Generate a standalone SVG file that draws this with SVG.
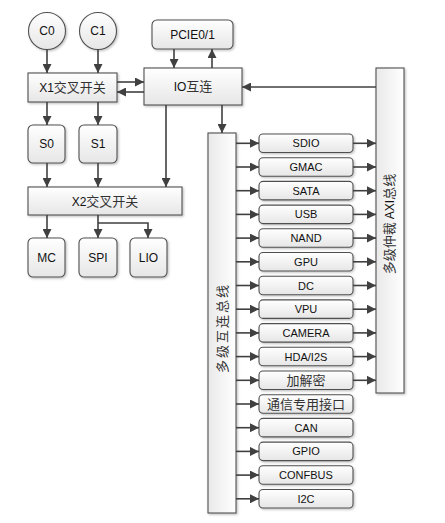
<svg xmlns="http://www.w3.org/2000/svg" width="445" height="523" viewBox="0 0 445 523">
<defs>
<linearGradient id="gv" x1="0" y1="0" x2="0" y2="1"><stop offset="0" stop-color="#ffffff"/><stop offset="1" stop-color="#e6e6e6"/></linearGradient>
<linearGradient id="gh" x1="0" y1="0" x2="1" y2="0"><stop offset="0" stop-color="#e9e9e9"/><stop offset="1" stop-color="#ffffff"/></linearGradient>
<filter id="sh" x="-10%" y="-10%" width="130%" height="130%"><feDropShadow dx="1.2" dy="1.2" stdDeviation="0.8" flood-color="#000" flood-opacity="0.25"/></filter>
<marker id="ar" viewBox="0 0 10 10" refX="10" refY="5" markerWidth="9" markerHeight="9" markerUnits="userSpaceOnUse" orient="auto"><path d="M0,0 L10,5 L0,10 z" fill="#404040"/></marker>
</defs>
<style>
.b{fill:url(#gv);stroke:#505050;stroke-width:1.1;filter:url(#sh)}
.bus{fill:url(#gh);stroke:#505050;stroke-width:1.1;filter:url(#sh)}
.t{font-family:"Liberation Sans","Noto Sans CJK SC",sans-serif;font-size:12px;fill:#111;text-anchor:middle}
.p{font-size:11px}
.z{font-family:"Noto Sans CJK SC",sans-serif;font-size:13px;fill:#333}
.c line,.c path{stroke:#404040;stroke-width:1.6;fill:none;marker-end:url(#ar)}
</style>
<rect width="445" height="523" fill="#fff"/>
<g id="C0"><circle class="b" cx="47" cy="31" r="18.5"/><text class="t" x="47" y="35.3">C0</text></g>
<g id="C1"><circle class="b" cx="98" cy="31" r="18.5"/><text class="t" x="98" y="35.3">C1</text></g>
<g id="PCIE"><rect class="b" x="152" y="20" width="81" height="29" rx="5"/><text class="t" x="192.5" y="38.8">PCIE0/1</text></g>
<g id="X1"><rect class="b" x="28" y="73" width="89" height="29"/><text class="t" x="72.5" y="92">X1<tspan class="z">交叉开关</tspan></text></g>
<g id="IO"><rect class="b" x="144" y="68" width="98" height="37"/><text class="t" x="193" y="91">IO<tspan class="z">互连</tspan></text></g>
<g id="S0"><rect class="b" x="28" y="125" width="37" height="38" rx="5"/><text class="t" x="46.5" y="148.3">S0</text></g>
<g id="S1"><rect class="b" x="79" y="125" width="38" height="38" rx="5"/><text class="t" x="98" y="148.3">S1</text></g>
<g id="X2"><rect class="b" x="28" y="187" width="154" height="28"/><text class="t" x="105" y="205.5">X2<tspan class="z">交叉开关</tspan></text></g>
<g id="MC"><rect class="b" x="28" y="238" width="37" height="39" rx="5"/><text class="t" x="46.5" y="261.8">MC</text></g>
<g id="SPI"><rect class="b" x="79" y="238" width="38" height="39" rx="5"/><text class="t" x="98" y="261.8">SPI</text></g>
<g id="LIO"><rect class="b" x="130" y="238" width="37" height="39" rx="5"/><text class="t" x="148.5" y="261.8">LIO</text></g>
<g id="BUS1"><rect class="bus" x="208" y="133" width="28" height="380"/><text class="t z" letter-spacing="2" transform="translate(222,328) rotate(-90)" y="4.6">多级互连总线</text></g>
<g id="AXI"><rect class="bus" x="376" y="68" width="28" height="325"/><text class="t" transform="translate(390,224) rotate(-90)" y="4.4"><tspan class="z">多级仲裁 </tspan>AXI<tspan class="z">总线</tspan></text></g>
<g id="SDIO"><rect class="b" x="259" y="134" width="94" height="18.5" rx="4"/><text class="t p" x="306" y="147.3">SDIO</text></g>
<g id="GMAC"><rect class="b" x="259" y="157.7" width="94" height="18.5" rx="4"/><text class="t p" x="306" y="171">GMAC</text></g>
<g id="SATA"><rect class="b" x="259" y="181.4" width="94" height="18.5" rx="4"/><text class="t p" x="306" y="194.7">SATA</text></g>
<g id="USB"><rect class="b" x="259" y="205.1" width="94" height="18.5" rx="4"/><text class="t p" x="306" y="218.4">USB</text></g>
<g id="NAND"><rect class="b" x="259" y="228.8" width="94" height="18.5" rx="4"/><text class="t p" x="306" y="242.1">NAND</text></g>
<g id="GPU"><rect class="b" x="259" y="252.5" width="94" height="18.5" rx="4"/><text class="t p" x="306" y="265.8">GPU</text></g>
<g id="DC"><rect class="b" x="259" y="276.2" width="94" height="18.5" rx="4"/><text class="t p" x="306" y="289.5">DC</text></g>
<g id="VPU"><rect class="b" x="259" y="299.9" width="94" height="18.5" rx="4"/><text class="t p" x="306" y="313.2">VPU</text></g>
<g id="CAMERA"><rect class="b" x="259" y="323.6" width="94" height="18.5" rx="4"/><text class="t p" x="306" y="336.9">CAMERA</text></g>
<g id="HDA"><rect class="b" x="259" y="347.3" width="94" height="18.5" rx="4"/><text class="t p" x="306" y="360.6">HDA/I2S</text></g>
<g id="CRYPT"><rect class="b" x="259" y="371" width="94" height="18.5" rx="4"/><text class="t z" x="306" y="384.9">加解密</text></g>
<g id="COMM"><rect class="b" x="259" y="394.7" width="94" height="18.5" rx="4"/><text class="t z" x="306" y="408.6">通信专用接口</text></g>
<g id="CAN"><rect class="b" x="259" y="418.4" width="94" height="18.5" rx="4"/><text class="t p" x="306" y="431.7">CAN</text></g>
<g id="GPIO"><rect class="b" x="259" y="442.1" width="94" height="18.5" rx="4"/><text class="t p" x="306" y="455.4">GPIO</text></g>
<g id="CONFBUS"><rect class="b" x="259" y="465.8" width="94" height="18.5" rx="4"/><text class="t p" x="306" y="479.1">CONFBUS</text></g>
<g id="I2C"><rect class="b" x="259" y="489.5" width="94" height="18.5" rx="4"/><text class="t p" x="306" y="502.8">I2C</text></g>
<g id="connectors" class="c">
<line x1="47" y1="49.5" x2="47" y2="73"/>
<line x1="98" y1="49.5" x2="98" y2="73"/>
<line x1="174" y1="49" x2="174" y2="68"/>
<line x1="212" y1="68" x2="212" y2="49"/>
<line x1="117" y1="82" x2="144" y2="82"/>
<line x1="144" y1="92" x2="117" y2="92"/>
<line x1="376" y1="87" x2="242" y2="87"/>
<line x1="47" y1="102" x2="47" y2="125"/>
<line x1="98" y1="102" x2="98" y2="125"/>
<line x1="166" y1="105" x2="166" y2="187"/>
<line x1="222" y1="105" x2="222" y2="133"/>
<line x1="47" y1="163" x2="47" y2="187"/>
<line x1="98" y1="163" x2="98" y2="187"/>
<line x1="47" y1="215" x2="47" y2="238"/>
<line x1="98" y1="215" x2="98" y2="238"/>
<path d="M98,223 H148 V238"/>
<line x1="236" y1="143.3" x2="259" y2="143.3"/>
<line x1="236" y1="167" x2="259" y2="167"/>
<line x1="236" y1="190.7" x2="259" y2="190.7"/>
<line x1="236" y1="214.4" x2="259" y2="214.4"/>
<line x1="236" y1="238.1" x2="259" y2="238.1"/>
<line x1="236" y1="261.8" x2="259" y2="261.8"/>
<line x1="236" y1="285.5" x2="259" y2="285.5"/>
<line x1="236" y1="309.2" x2="259" y2="309.2"/>
<line x1="236" y1="332.9" x2="259" y2="332.9"/>
<line x1="236" y1="356.6" x2="259" y2="356.6"/>
<line x1="236" y1="380.3" x2="259" y2="380.3"/>
<line x1="236" y1="404" x2="259" y2="404"/>
<line x1="236" y1="427.7" x2="259" y2="427.7"/>
<line x1="236" y1="451.4" x2="259" y2="451.4"/>
<line x1="236" y1="475.1" x2="259" y2="475.1"/>
<line x1="236" y1="498.8" x2="259" y2="498.8"/>
<line x1="353" y1="143.3" x2="376" y2="143.3"/>
<line x1="353" y1="167" x2="376" y2="167"/>
<line x1="353" y1="190.7" x2="376" y2="190.7"/>
<line x1="353" y1="214.4" x2="376" y2="214.4"/>
<line x1="353" y1="238.1" x2="376" y2="238.1"/>
<line x1="353" y1="261.8" x2="376" y2="261.8"/>
<line x1="353" y1="285.5" x2="376" y2="285.5"/>
<line x1="353" y1="309.2" x2="376" y2="309.2"/>
<line x1="353" y1="332.9" x2="376" y2="332.9"/>
<line x1="353" y1="356.6" x2="376" y2="356.6"/>
<line x1="353" y1="380.3" x2="376" y2="380.3"/>
</g>
</svg>
